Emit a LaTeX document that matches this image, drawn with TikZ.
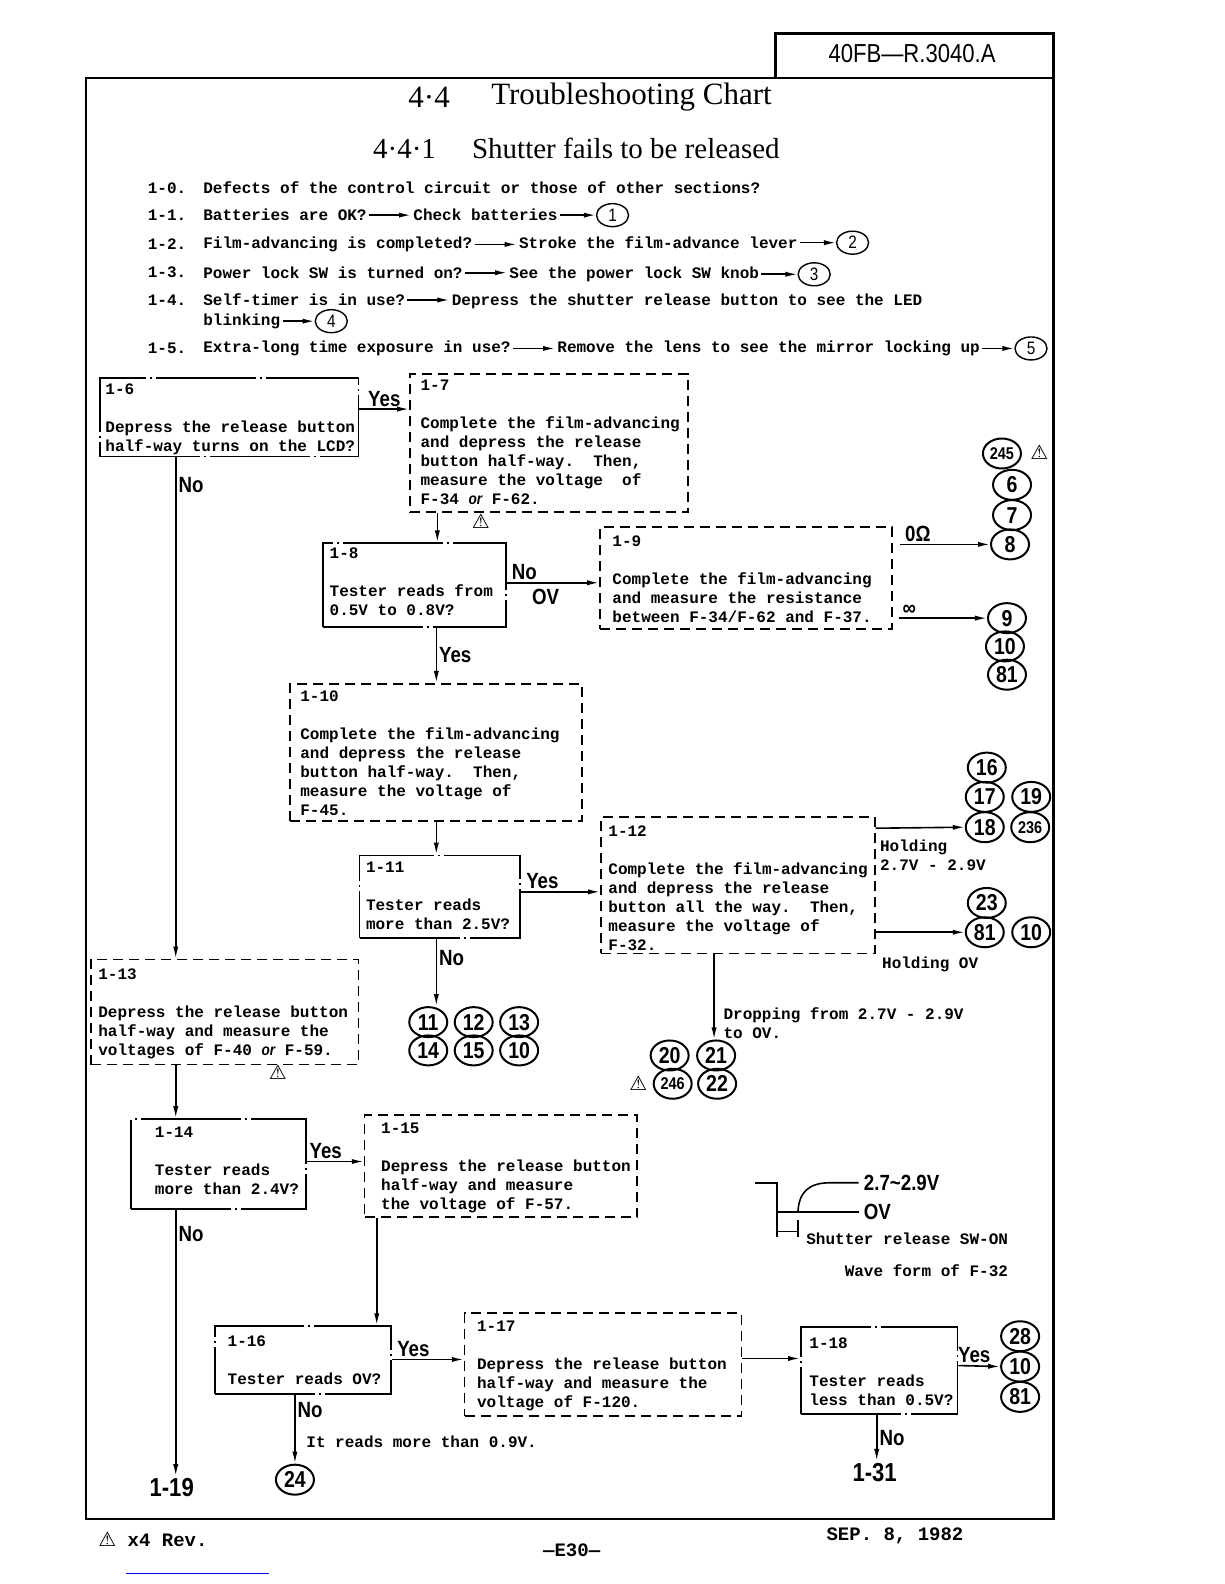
\documentclass[tikz,border=0pt]{standalone}
\usepackage{fontspec}
\setmainfont{Liberation Serif}
\setmonofont{Liberation Mono}
\newfontfamily\handfont[FakeStretch=0.85]{Liberation Sans}
\newfontfamily\symfont{DejaVu Sans}
\usepackage{tikz}
\usetikzlibrary{arrows.meta,positioning,shapes.geometric,fit}
\newcommand{\revmark}{{\symfont\fontsize{10}{10}\selectfont ⚠}}

\begin{document}
\begin{tikzpicture}
    [x=0.505pt, y=-0.505pt, >={Latex[length=6pt,width=2.6pt]},
     mono/.style={font=\ttfamily\bfseries\fontsize{8}{9.5}\selectfont},
     listtext/.style={mono, inner sep=1pt},
     boxtext/.style={mono, anchor=north west, align=left, inner sep=0pt},
     foot/.style={font=\ttfamily\bfseries\fontsize{9.5}{11}\selectfont, inner sep=0pt},
     qbox/.style={draw, line width=0.9pt, inner sep=0pt, dash pattern=on 50pt off 2pt on 1pt off 2pt},
     abox/.style={draw, line width=0.85pt, inner sep=0pt, dash pattern=on 5pt off 3pt},
     flow/.style={->, line width=0.8pt},
     hw/.style={font=\handfont\bfseries\fontsize{11}{12}\selectfont, inner sep=1pt},
     bighw/.style={font=\handfont\bfseries\fontsize{13}{14}\selectfont, inner sep=1pt},
     ref/.style={ellipse, draw, line width=1pt, inner sep=0pt, minimum width=19pt, minimum height=15pt, font=\handfont\bfseries\fontsize{11.5}{12}\selectfont},
     ref3/.style={ref, font=\handfont\bfseries\fontsize{8.5}{9}\selectfont},
     sref/.style={ref, line width=0.7pt, minimum width=16pt, minimum height=11.5pt, font=\handfont\fontsize{9}{9}\selectfont},
     ttl/.style={anchor=west, inner sep=0pt},
     outline/.style={line width=1.2pt}]

    \useasboundingbox (0,0) rectangle (1212,1568.3);

    % page frame and header
    \draw[outline] (85,77) rectangle (1043,1504);
    \draw[outline] (768,77) -- (768,33) -- (1043,33) -- (1043,77);
    \node[font=\handfont\fontsize{13}{14}\selectfont] (docno) at (903,53) {40FB—R.3040.A};

    \node[ttl, font=\fontsize{15.5}{18}\selectfont] (ttlnum) at (404,96) {4·4};
    \node[ttl, font=\fontsize{15.5}{18}\selectfont] (ttltxt) at (486,96) {Troubleshooting Chart};
    \node[ttl, font=\fontsize{14.5}{17}\selectfont] (subnum) at (369,147) {4·4·1};
    \node[ttl, font=\fontsize{14.5}{17}\selectfont] (subtxt) at (467,147) {Shutter fails to be released};

    % preliminary checks
    \node[listtext, anchor=west] (l10) at (144,186) {1-0.};
    \node[listtext, anchor=west] (q10) at (199,186) {Defects of the control circuit or those of other sections?};

    \node[listtext, anchor=west] (l11) at (144,213) {1-1.};
    \node[listtext, anchor=west] (q11) at (199,213) {Batteries are OK?};
    \node[listtext, base right=21pt of q11] (a11) {Check batteries};
    \node[sref, right=18pt of a11] (c1) {1};

    \node[listtext, anchor=west] (l12) at (144,242) {1-2.};
    \node[listtext, anchor=west] (q12) at (199,242) {Film-advancing is completed?};
    \node[listtext, base right=21pt of q12] (a12) {Stroke the film-advance lever};
    \node[sref, right=18pt of a12] (c2) {2};

    \node[listtext, anchor=west] (l13) at (144,270) {1-3.};
    \node[listtext, anchor=west] (q13) at (199,270) {Power lock SW is turned on?};
    \node[listtext, base right=21pt of q13] (a13) {See the power lock SW knob};
    \node[sref, right=18pt of a13] (c3) {3};

    \node[listtext, anchor=west] (l14) at (144,297) {1-4.};
    \node[listtext, anchor=west] (q14) at (199,297) {Self-timer is in use?};
    \node[listtext, base right=21pt of q14] (a14) {Depress the shutter release button to see the LED};
    \node[listtext, anchor=west] (a14b) at (199,318) {blinking};
    \node[sref, right=16pt of a14b] (c4) {4};

    \node[listtext, anchor=west] (l15) at (144,345) {1-5.};
    \node[listtext, anchor=west] (q15) at (199,345) {Extra-long time exposure in use?};
    \node[listtext, base right=21pt of q15] (a15) {Remove the lens to see the mirror locking up};
    \node[sref, right=16pt of a15] (c5) {5};

    \draw[flow] (q11.east) -- (q11.east -| a11.west);
    \draw[flow] (a11.east) -- (c1.west);
    \draw[flow] (q12.east) -- (q12.east -| a12.west);
    \draw[flow] (a12.east) -- (c2.west);
    \draw[flow] (q13.east) -- (q13.east -| a13.west);
    \draw[flow] (a13.east) -- (c3.west);
    \draw[flow] (q14.east) -- (q14.east -| a14.west);
    \draw[flow] (a14b.east) -- (c4.west);
    \draw[flow] (q15.east) -- (q15.east -| a15.west);
    \draw[flow] (a15.east) -- (c5.west);

    % chart boxes
    \node[qbox, fit={(99,374) (355,452)}] (b16) {};
    \node[boxtext] (t16) at (104,380) {1-6\\[9.5pt]Depress the release button\\half-way turns on the LCD?};

    \node[abox, fit={(406,370) (681,507)}] (b17) {};
    \node[boxtext] (t17) at (416,376) {1-7\\[9.5pt]Complete the film-advancing\\and depress the release\\button half-way.\ \ Then,\\measure the voltage\ \ of\\F-34 {\handfont\itshape or} F-62.};

    \node[qbox, fit={(320,538) (501,621)}] (b18) {};
    \node[boxtext] (t18) at (326,542) {1-8\\[9.5pt]Tester reads from\\0.5V to 0.8V?};

    \node[abox, fit={(594,522) (883,623)}] (b19) {};
    \node[boxtext] (t19) at (606,530) {1-9\\[9.5pt]Complete the film-advancing\\and measure the resistance\\between F-34/F-62 and F-37.};

    \node[abox, fit={(287,677) (576,813)}] (b110) {};
    \node[boxtext] (t110) at (297,684) {1-10\\[9.5pt]Complete the film-advancing\\and depress the release\\button half-way.\ \ Then,\\measure the voltage of\\F-45.};

    \node[qbox, fit={(356,847) (515,929)}] (b111) {};
    \node[boxtext] (t111) at (362,853) {1-11\\[9.5pt]Tester reads\\more than 2.5V?};

    \node[abox, fit={(595,809) (866,944)}] (b112) {};
    \node[boxtext] (t112) at (602,817) {1-12\\[9.5pt]Complete the film-advancing\\and depress the release\\button all the way.\ \ Then,\\measure the voltage of\\F-32.};

    \node[abox, fit={(90,950) (355,1054)}] (b113) {};
    \node[boxtext] (t113) at (97,959) {1-13\\[9.5pt]Depress the release button\\half-way and measure the\\voltages of F-40 {\handfont\itshape or} F-59.};

    \node[qbox, fit={(130,1108) (303,1197)}] (b114) {};
    \node[boxtext] (t114) at (153,1115) {1-14\\[9.5pt]Tester reads\\more than 2.4V?};

    \node[abox, fit={(361,1104) (631,1205)}] (b115) {};
    \node[boxtext] (t115) at (377,1111) {1-15\\[9.5pt]Depress the release button\\half-way and measure\\the voltage of F-57.};

    \node[qbox, fit={(213,1313) (387,1380)}] (b116) {};
    \node[boxtext] (t116) at (225,1322) {1-16\\[9.5pt]Tester reads OV?};

    \node[abox, fit={(460,1300) (734,1402)}] (b117) {};
    \node[boxtext] (t117) at (472,1307) {1-17\\[9.5pt]Depress the release button\\half-way and measure the\\voltage of F-120.};

    \node[qbox, fit={(793,1314) (948,1400)}] (b118) {};
    \node[boxtext] (t118) at (801,1324) {1-18\\[9.5pt]Tester reads\\less than 0.5V?};

    % reference numbers
    \node[ref3] (r245) at (992,449) {245};
    \node[inner sep=0pt] (w245) at (1029,448) {\revmark};
    \node[ref] (r6) at (1002,480) {6};
    \node[ref] (r7) at (1002,510) {7};
    \node[ref] (r8) at (1000,539) {8};
    \node[ref] (r9) at (997,612) {9};
    \node[ref] (r10a) at (995,640) {10};
    \node[ref] (r81a) at (997,668) {81};

    \node[ref] (r16) at (977,760) {16};
    \node[ref] (r17) at (975,789) {17};
    \node[ref] (r19) at (1021,789) {19};
    \node[ref] (r18) at (975,819) {18};
    \node[ref3] (r236) at (1020,819) {236};
    \node[ref] (r23) at (977,894) {23};
    \node[ref] (r81b) at (975,923) {81};
    \node[ref] (r10b) at (1021,923) {10};

    \node[ref] (r11) at (424,1012) {11};
    \node[ref] (r12) at (469,1012) {12};
    \node[ref] (r13) at (514,1012) {13};
    \node[ref] (r14) at (424,1040) {14};
    \node[ref] (r15) at (469,1040) {15};
    \node[ref] (r10c) at (514,1040) {10};

    \node[ref] (r20) at (663,1045) {20};
    \node[ref] (r21) at (709,1045) {21};
    \node[ref3] (r246) at (666,1073) {246};
    \node[ref] (r22) at (710,1073) {22};
    \node[inner sep=0pt] (w246) at (632,1072) {\revmark};

    \node[ref] (r24) at (292,1465) {24};

    \node[ref] (r28) at (1010,1323) {28};
    \node[ref] (r10d) at (1010,1353) {10};
    \node[ref] (r81c) at (1010,1383) {81};

    \node[bighw] (n119) at (170,1473) {1-19};
    \node[bighw] (n131) at (866,1458) {1-31};

    \node[inner sep=0pt] (w17) at (476,516) {\revmark};
    \node[inner sep=0pt] (w113) at (275,1062) {\revmark};

    % connectors
    \draw[flow] (b16.east |- 0,405) -- (b17.west |- 0,405) node[hw, midway, above] {Yes};
    \draw[flow] (b16.south -| 174,0) -- (b113.north -| 174,0) node[hw, pos=0.055, right] {No};
    \draw[flow] (b17.south -| 433,0) -- (b18.north -| 433,0);
    \draw[flow] (b18.east |- 0,577) -- (b19.west |- 0,577)
        node[hw, pos=0.19, above] {No} node[hw, pos=0.42, below=2pt] {OV};
    \draw[flow] (b19.east |- 0,539) ++(7,0) -- (r8.west) node[hw, pos=0.2, above] {0Ω};
    \draw[flow] (b19.east |- 0,612) ++(6,0) -- (r9.west) node[hw, pos=0.12, above] {∞};
    \draw[flow] (b18.south -| 432,0) -- (b110.north -| 432,0) node[hw, midway, right] {Yes};
    \draw[flow] (b110.south -| 432,0) -- (b111.north -| 432,0);
    \draw[flow] (b111.east |- 0,883) -- (b112.west |- 0,883) node[hw, pos=0.27, above] {Yes};
    \draw[flow] (b111.south -| 432,0) -- (r11.north -| 432,0) node[hw, pos=0.28, right] {No};

    \draw[flow] (b112.east |- 0,820) -- (r18.west);
    \node[mono, anchor=north west, align=left, inner sep=0pt] (hold) at (871,831) {Holding\\2.7V - 2.9V};
    \draw[flow] (b112.east |- 0,923) -- (r81b.west);
    \node[mono, anchor=west, inner sep=0pt] (holdzero) at (873,955) {Holding OV};
    \draw[flow] (b112.south -| 707,0) -- (r21.north -| 707,0);
    \node[mono, anchor=north west, align=left, inner sep=0pt] (drop) at (716,997) {Dropping from 2.7V - 2.9V\\to OV.};

    \draw[flow] (b113.south -| 174,0) -- (b114.north -| 174,0);
    \draw[flow] (b114.east |- 0,1150) -- (b115.west |- 0,1150) node[hw, pos=0.33, above] {Yes};
    \draw[flow] (b114.south -| 174,0) -- (n119.north -| 174,0) node[hw, pos=0.09, right] {No};
    \draw[flow] (b115.south -| 373,0) -- (b116.north -| 373,0);
    \draw[flow] (b116.east |- 0,1346) -- (b117.west |- 0,1346) node[hw, pos=0.3, above] {Yes};
    \draw[flow] (b116.south -| 292,0) -- (r24.north) node[hw, pos=0.22, right] {No};
    \node[mono, anchor=west, inner sep=0pt] (over09) at (303,1427) {It reads more than 0.9V.};
    \draw[flow] (b117.east |- 0,1345) -- (b118.west |- 0,1345);
    \draw[flow] (b118.east |- 0,1352) -- (r10d.west) node[hw, pos=0.38, above] {Yes};
    \draw[flow] (b118.south -| 868,0) -- (n131.north -| 868,0) node[hw, midway, right] {No};

    % wave form of F-32
    \draw[line width=0.8pt] (748,1171) -- (769,1171) -- (769,1225);
    \draw[line width=0.8pt] (769,1200) -- (850,1200);
    \draw[line width=0.8pt] (790,1200) .. controls (791,1181) and (800,1171) .. (822,1171) -- (850,1171);
    \draw[line width=0.8pt] (790,1208) -- (790,1225);
    \draw[line width=0.6pt] (769,1219) -- (790,1219);
    \node[hw, anchor=west] (wvhigh) at (853,1171) {2.7\textasciitilde 2.9V};
    \node[hw, anchor=west] (wvlow) at (853,1200) {OV};
    \node[mono, anchor=west, inner sep=0pt] (wvsw) at (798,1226) {Shutter release SW-ON};
    \node[mono, anchor=west, inner sep=0pt] (wvcap) at (836,1258) {Wave form of F-32};

    % footer
    \node[foot, anchor=west] (revnote) at (97,1524) {\revmark\ x4 Rev.};
    \node[foot] (pageno) at (566,1535) {—E30—};
    \node[foot, anchor=west] (date) at (818,1521) {SEP. 8, 1982};
    \draw[blue, line width=0.6pt] (125,1558) -- (266,1558);

\end{tikzpicture}
\end{document}
